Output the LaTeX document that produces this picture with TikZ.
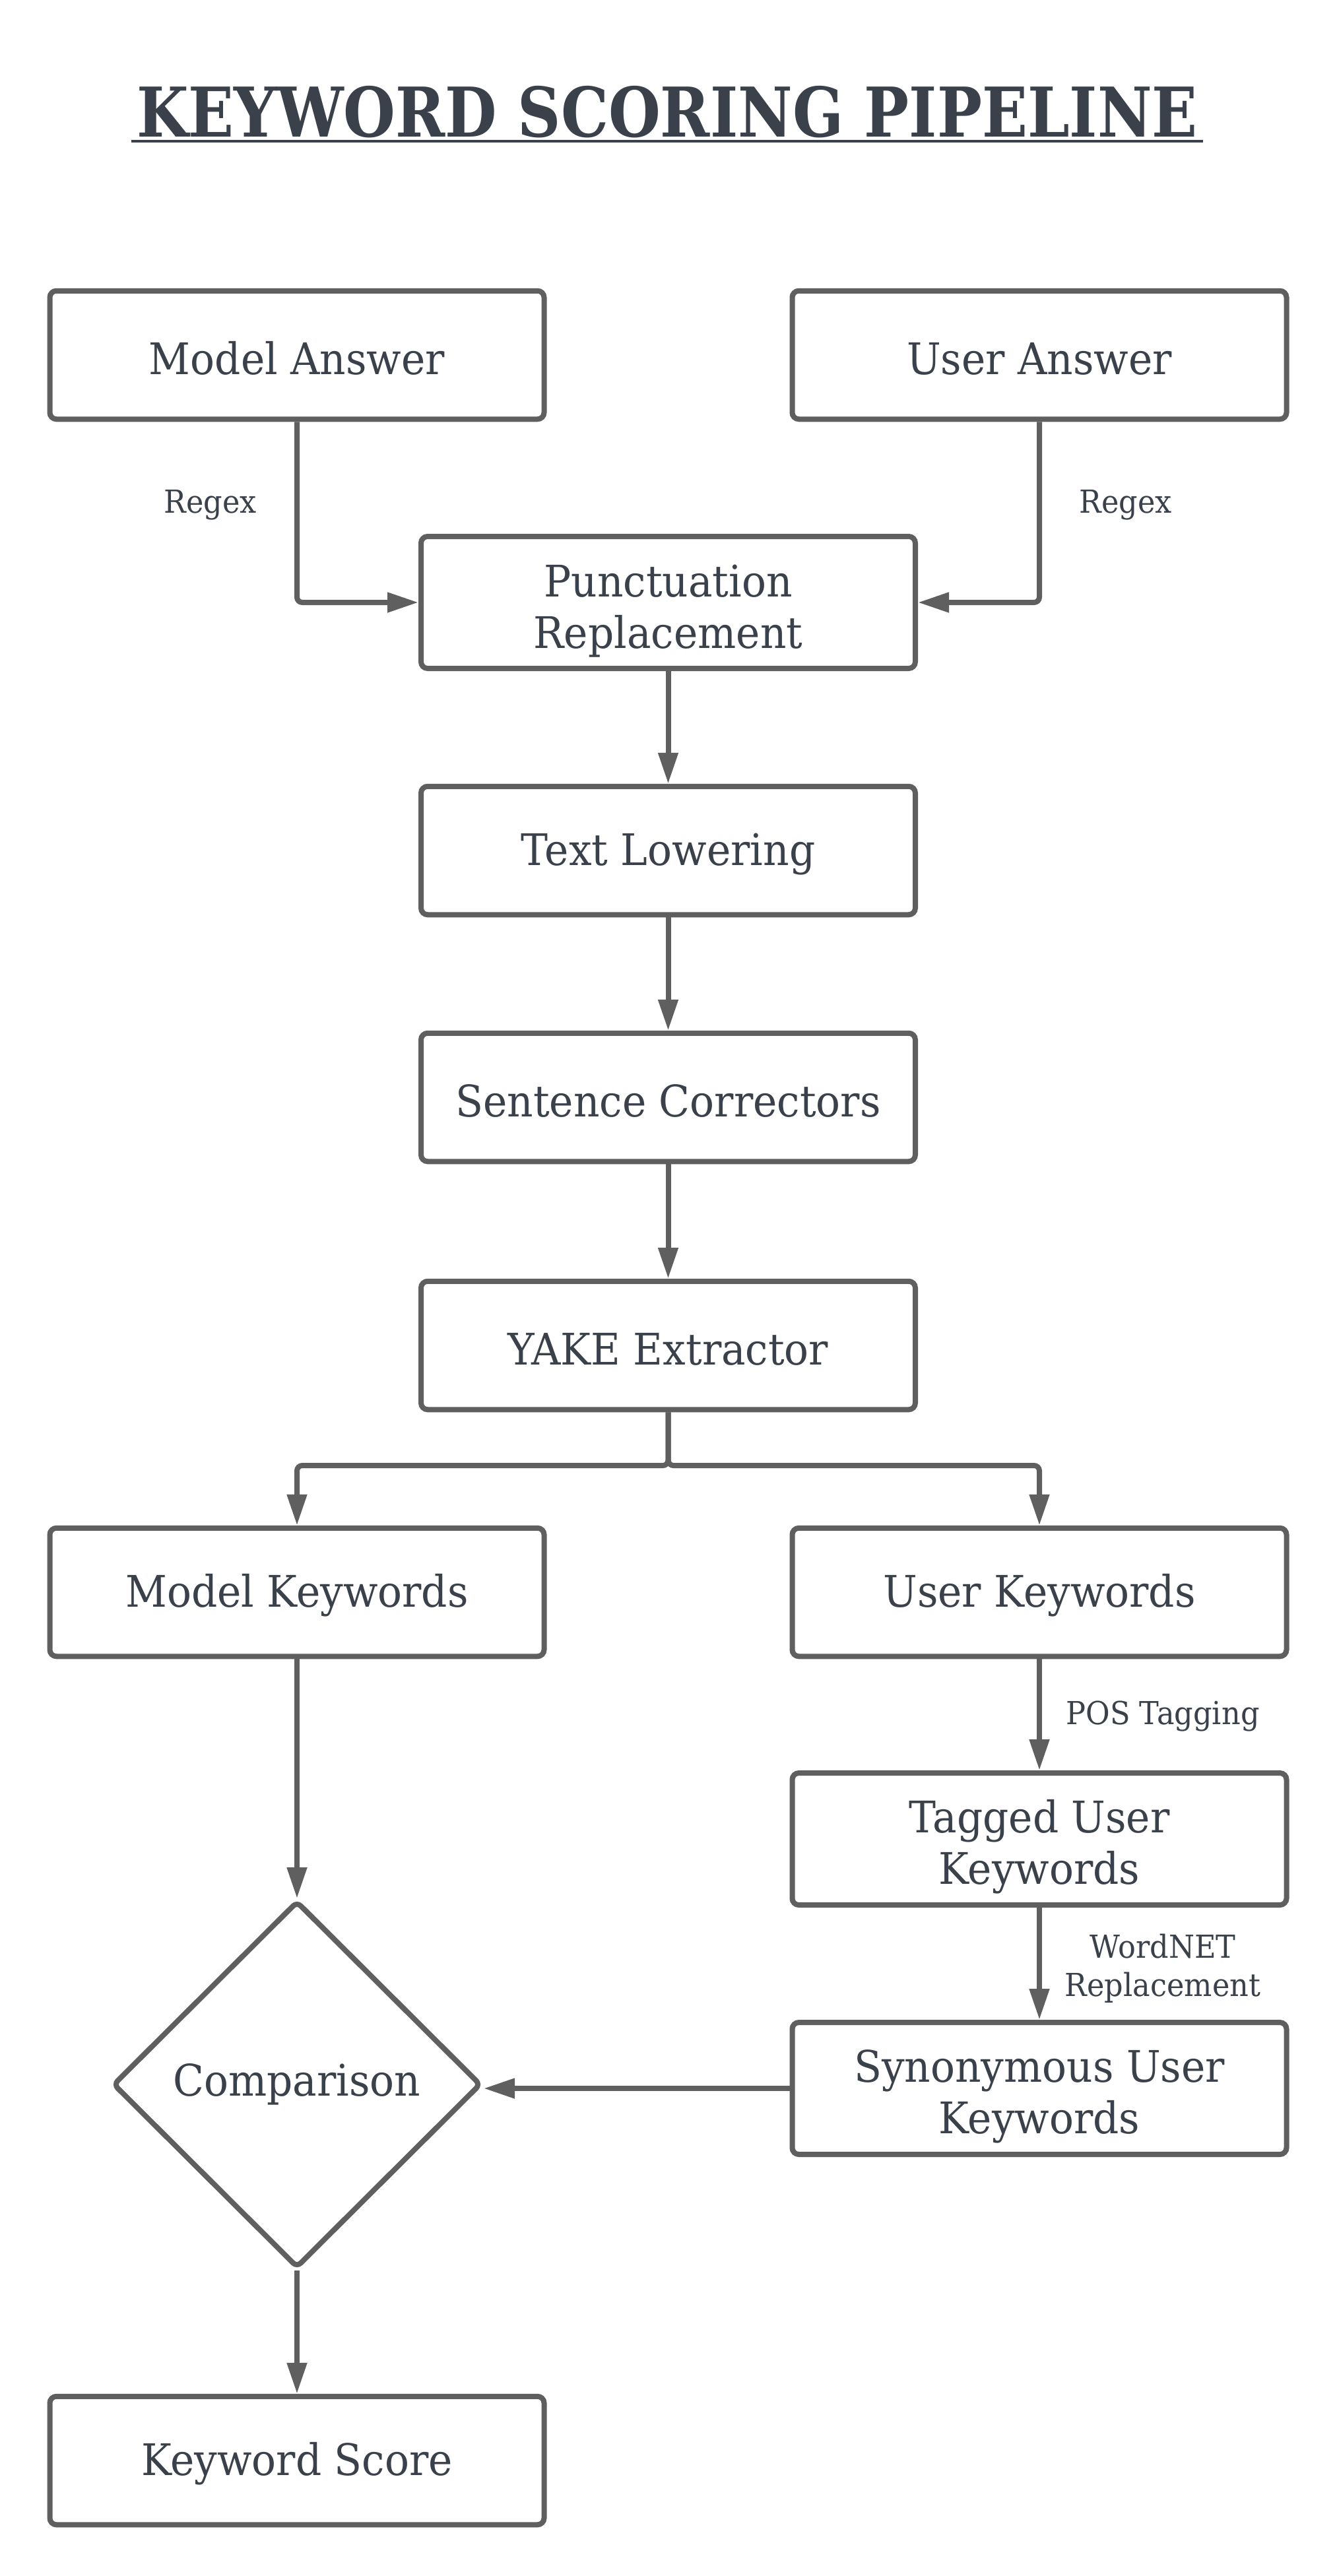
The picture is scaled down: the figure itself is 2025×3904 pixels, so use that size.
\documentclass[tikz,border=0pt]{standalone}
\usepackage{fontspec}
\setmainfont{DejaVu Serif}[FakeStretch=0.93]
\newfontfamily\titlefont{DejaVu Serif}[FakeStretch=0.87]
\usetikzlibrary{shapes.geometric,arrows.meta,calc}
\definecolor{txt}{RGB}{58,65,75}
\definecolor{ln}{RGB}{95,95,95}
\newcommand\boxstrut{\rule{0pt}{30pt}}
\newcommand\tallstrut{\rule{0pt}{37pt}}
\begin{document}
\begin{tikzpicture}[x=0.5pt,y=-0.5pt,
  box/.style={draw=ln, line width=4pt, rounded corners=5pt, minimum width=374.5pt, minimum height=97.25pt, inner sep=0pt, align=center, text=txt, font=\fontsize{33pt}{39pt}\selectfont},
  tallbox/.style={box, minimum height=100pt},
  lbl/.style={text=txt, font=\fontsize{24pt}{29pt}\selectfont, align=center, inner sep=0pt},
  arr/.style={draw=ln, line width=4pt, rounded corners=4pt, -{Triangle[length=23.5pt,width=14.5pt]}},
  titlestyle/.style={text=txt, inner sep=0pt, font=\titlefont\fontsize{52pt}{60pt}\selectfont\bfseries},
  decision/.style={diamond, aspect=1, draw=ln, line width=4pt, rounded corners=4pt, minimum width=279pt, minimum height=278pt, inner sep=0pt, text=txt, font=\fontsize{33pt}{39pt}\selectfont}
]
\useasboundingbox (0,0) rectangle (2025,3904);
\fill[white] (0,0) rectangle (2025,3904);

\node[titlestyle, anchor=base] (title) at (1011,207) {KEYWORD SCORING PIPELINE};
\draw[txt, line width=2pt] ($(title.base west)+(-8,7)$) -- ($(title.base east)+(8,7)$);

\node[box] (ma) at (450,538) {\boxstrut Model Answer};
\node[box] (ua) at (1575,538) {\boxstrut User Answer};
\node[tallbox] (pr) at (1012.5,913) {\tallstrut Punctuation\\Replacement};
\node[box] (tl) at (1012.5,1289) {\boxstrut Text Lowering};
\node[box] (sc) at (1012.5,1663) {\boxstrut Sentence Correctors};
\node[box] (ya) at (1012.5,2039) {\boxstrut YAKE Extractor};
\node[box] (mk) at (450,2413) {\boxstrut Model Keywords};
\node[box] (uk) at (1575,2413) {\boxstrut User Keywords};
\node[tallbox] (tg) at (1575,2787) {\tallstrut Tagged User\\Keywords};
\node[tallbox] (sy) at (1575,3165) {\tallstrut Synonymous User\\Keywords};
\node[decision] (dia) at (450,3159) {Comparison};
\node[box] (ks) at (450,3729) {\boxstrut Keyword Score};

\coordinate (split) at (1012.5,2221);

\draw[arr] (ma.south) |- (pr.west);
\draw[arr] (ua.south) |- (pr.east);
\draw[arr] (pr.south) -- (tl.north);
\draw[arr] (tl.south) -- (sc.north);
\draw[arr] (sc.south) -- (ya.north);
\draw[arr] (ya.south) -- (split) -| (mk.north);
\draw[arr] (ya.south) -- (split) -| (uk.north);
\draw[arr] (mk.south) -- (dia.north);
\draw[arr] (uk.south) -- (tg.north);
\draw[arr] (tg.south) -- (sy.north);
\draw[arr] (sy.west) -- (sy.west -| dia.east);
\draw[arr] (dia.south) -- (ks.north);

\node[lbl, anchor=base] (rg1) at (319,777) {Regex};
\node[lbl, anchor=base] (rg2) at (1706,777) {Regex};
\node[lbl, anchor=base] (pos) at (1762,2613) {POS Tagging};
\node[lbl] (wn) at (1762,2983) {WordNET\\Replacement};
\end{tikzpicture}
\end{document}
